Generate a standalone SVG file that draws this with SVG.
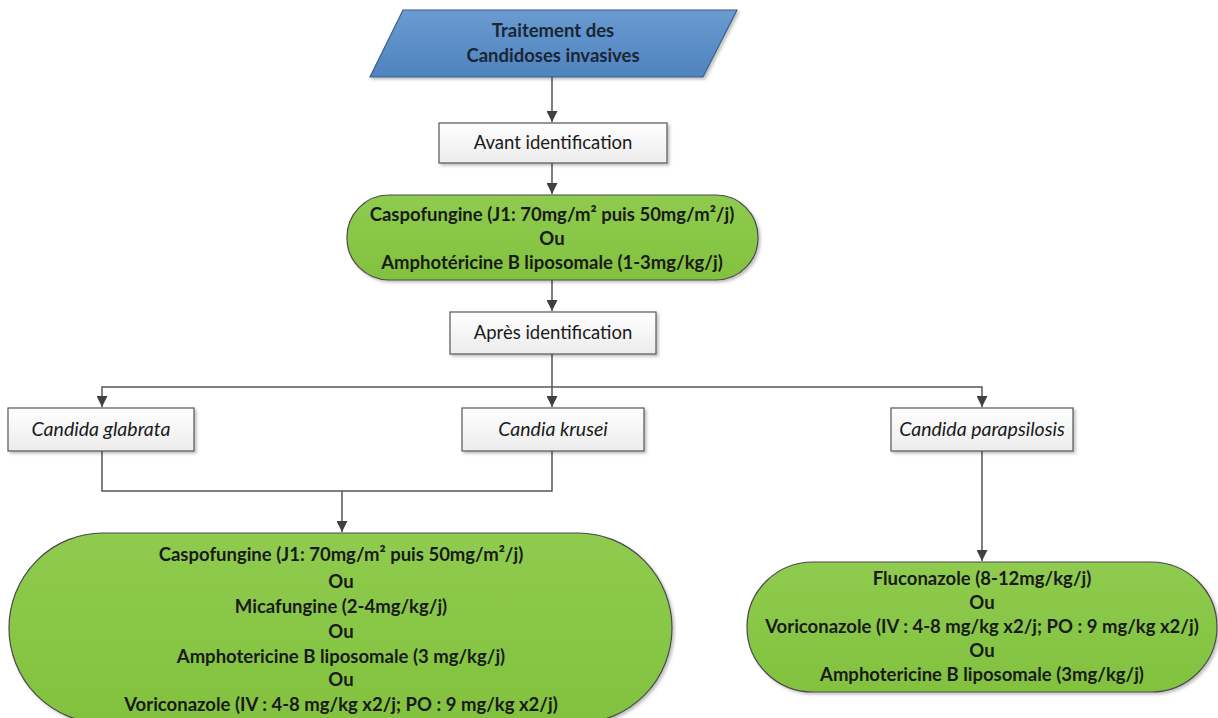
<svg xmlns="http://www.w3.org/2000/svg" width="1218" height="718" viewBox="0 0 1218 718">
<defs>
<linearGradient id="gBox" x1="0" y1="0" x2="0" y2="1"><stop offset="0" stop-color="#ffffff"/><stop offset="1" stop-color="#ececec"/></linearGradient>
<linearGradient id="gGreen" x1="0" y1="0" x2="0" y2="1"><stop offset="0" stop-color="#8fcb4f"/><stop offset="1" stop-color="#82c23e"/></linearGradient>
<linearGradient id="gBlue" x1="0" y1="0" x2="0" y2="1"><stop offset="0" stop-color="#6a9bd1"/><stop offset="1" stop-color="#4f83bf"/></linearGradient>
<filter id="sh" x="-10%" y="-10%" width="130%" height="140%"><feDropShadow dx="2" dy="2" stdDeviation="1.5" flood-color="#000" flood-opacity="0.25"/></filter>
<marker id="arr" viewBox="0 0 10 10" refX="10" refY="5" markerWidth="11" markerHeight="11" markerUnits="userSpaceOnUse" orient="auto"><path d="M0,0 L10,5 L0,10 z" fill="#404040"/></marker>
<style>
.box{fill:url(#gBox);stroke:#555;stroke-width:1.2;filter:url(#sh)}
.green{fill:url(#gGreen);stroke:#4a4a4a;stroke-width:1.2;filter:url(#sh)}
.blue{fill:url(#gBlue);stroke:#3d5f88;stroke-width:1.2;filter:url(#sh)}
.t{font-family:Lato,"Liberation Sans",sans-serif;font-size:18.5px;fill:#1a1a1a;text-anchor:middle}
.b{font-weight:bold}
.i{font-style:italic;font-size:19.5px}
.c{fill:none;stroke:#555;stroke-width:1.5}
</style>
</defs>
<g id="connectors">
<path class="c" d="M552,77 V122" marker-end="url(#arr)"/>
<path class="c" d="M552,163 V194" marker-end="url(#arr)"/>
<path class="c" d="M552,280 V311" marker-end="url(#arr)"/>
<path class="c" d="M552,354 V407" marker-end="url(#arr)"/>
<path class="c" d="M552,387 H102 V407" marker-end="url(#arr)"/>
<path class="c" d="M552,387 H982 V407" marker-end="url(#arr)"/>
<path class="c" d="M102,451 V491 H552 V451"/>
<path class="c" d="M342,491 V532" marker-end="url(#arr)"/>
<path class="c" d="M982,451 V561" marker-end="url(#arr)"/>
</g>
<g id="n-start"><polygon class="blue" points="403,10 737,10 703,77 370,77"/><text class="t b" x="553" y="37" style="fill:#1b2633">Traitement des</text><text class="t b" x="553" y="62" style="fill:#1b2633">Candidoses invasives</text></g>
<g id="n-avant"><rect class="box" x="439" y="123" width="228" height="40"/><text class="t" x="553" y="149">Avant identification</text></g>
<g id="n-first"><rect class="green" x="347" y="195" width="411" height="85" rx="42" ry="42"/><text class="t b" x="552" y="221">Caspofungine (J1: 70mg/m² puis 50mg/m²/j)</text><text class="t b" x="552" y="245">Ou</text><text class="t b" x="552" y="269">Amphotéricine B liposomale (1-3mg/kg/j)</text></g>
<g id="n-apres"><rect class="box" x="450" y="312" width="206" height="42"/><text class="t" x="553" y="339">Après identification</text></g>
<g id="n-glabrata"><rect class="box" x="8" y="408" width="186" height="43"/><text class="t i" x="101" y="436">Candida glabrata</text></g>
<g id="n-krusei"><rect class="box" x="462" y="408" width="182" height="43"/><text class="t i" x="553" y="436">Candia krusei</text></g>
<g id="n-parap"><rect class="box" x="891" y="408" width="182" height="43"/><text class="t i" x="982" y="436">Candida parapsilosis</text></g>
<g id="n-left"><rect class="green" x="9" y="533" width="663" height="190" rx="94" ry="95"/>
<text class="t b" x="341" y="561">Caspofungine (J1: 70mg/m² puis 50mg/m²/j)</text>
<text class="t b" x="341" y="588">Ou</text>
<text class="t b" x="341" y="613">Micafungine (2-4mg/kg/j)</text>
<text class="t b" x="341" y="638">Ou</text>
<text class="t b" x="341" y="663">Amphotericine B liposomale (3 mg/kg/j)</text>
<text class="t b" x="341" y="686">Ou</text>
<text class="t b" x="341" y="711">Voriconazole (IV : 4-8 mg/kg x2/j; PO : 9 mg/kg x2/j)</text></g>
<g id="n-right"><rect class="green" x="747" y="562" width="470" height="130" rx="66" ry="65"/>
<text class="t b" x="982" y="585">Fluconazole (8-12mg/kg/j)</text>
<text class="t b" x="982" y="609">Ou</text>
<text class="t b" x="982" y="633">Voriconazole (IV : 4-8 mg/kg x2/j; PO : 9 mg/kg x2/j)</text>
<text class="t b" x="982" y="657">Ou</text>
<text class="t b" x="982" y="681">Amphotericine B liposomale (3mg/kg/j)</text></g>
</svg>
